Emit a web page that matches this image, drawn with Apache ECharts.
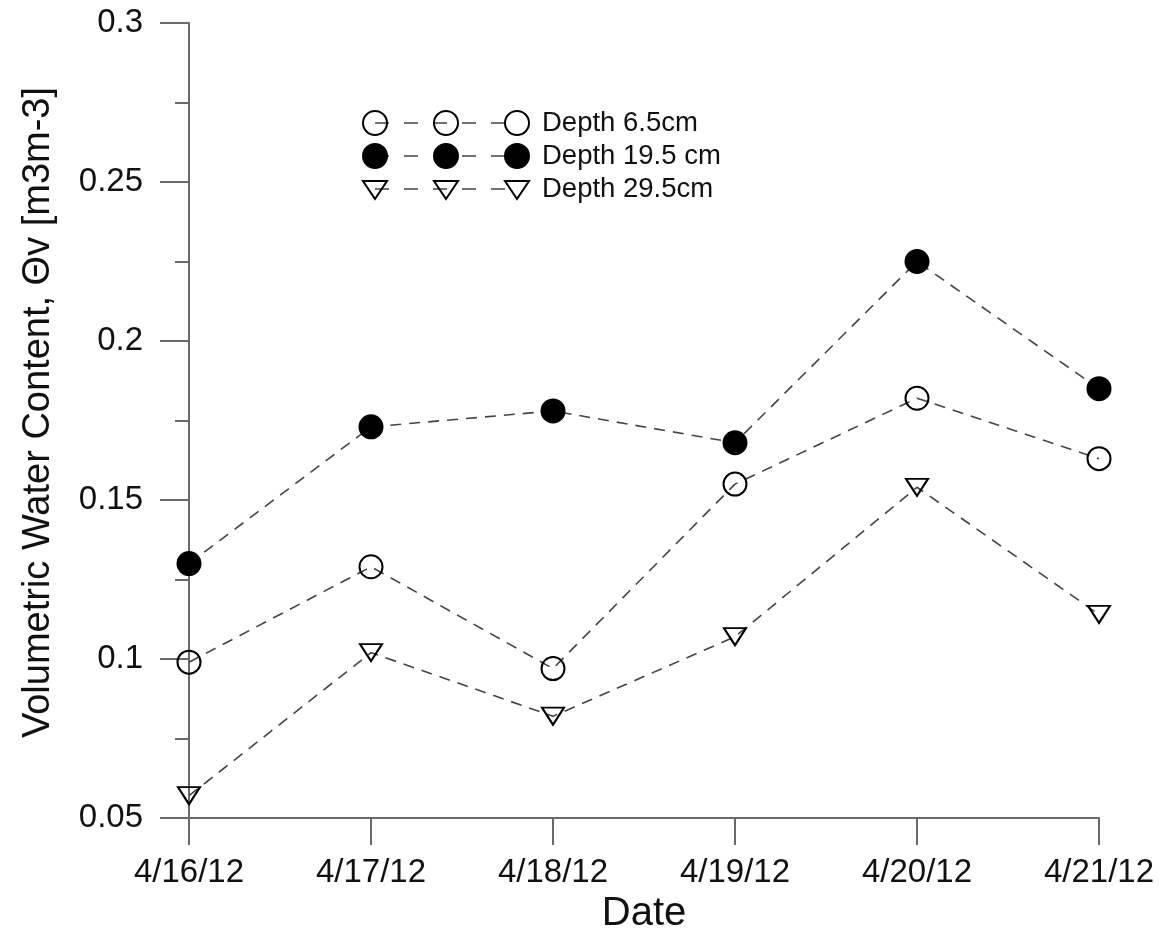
<!DOCTYPE html>
<html>
<head>
<meta charset="utf-8">
<script src="https://cdn.jsdelivr.net/npm/echarts@6/dist/echarts.min.js"></script>
<style>html,body{margin:0;padding:0;background:#fff}#c{width:1159px;height:928px}</style>
</head>
<body>
<div id="c"></div>
<script>
const dates = ['4/16/12', '4/17/12', '4/18/12', '4/19/12', '4/20/12', '4/21/12'];
const depth65 = [0.099, 0.129, 0.097, 0.155, 0.182, 0.163];
const depth195 = [0.130, 0.173, 0.178, 0.168, 0.225, 0.185];
const depth295 = [0.057, 0.102, 0.082, 0.107, 0.154, 0.114];
const seriesNames = ['Depth 6.5cm', 'Depth 19.5 cm', 'Depth 29.5cm'];
const yTicks = [0.05, 0.1, 0.15, 0.2, 0.25, 0.3];

const FONT = 'Liberation Sans, Arial, sans-serif';
const AX = '#6a6a6a';
const LINE = '#444';
const dash = [11, 8];

const chart = echarts.init(document.getElementById('c'), null, {renderer: 'canvas'});

function lineSeries(name, data, symbol, symbolSize, filled, rotate) {
  return {
    name: name, type: 'line', data: data,
    symbol: symbol, symbolSize: symbolSize, symbolRotate: rotate || 0,
    showAllSymbol: true,
    lineStyle: {color: LINE, width: 1.6, type: dash},
    itemStyle: {color: filled ? '#000' : 'rgba(0,0,0,0)', borderColor: '#000', borderWidth: 2},
    emphasis: {disabled: true},
    z: 3
  };
}

// legend drawn as graphics
const legRows = [123, 156, 189];
const legX = [375, 446, 517];
const legendGraphics = [];
seriesNames.forEach((n, i) => {
  const y = legRows[i];
  legendGraphics.push({type: 'line', shape: {x1: legX[0], y1: y, x2: legX[2], y2: y},
    style: {stroke: LINE, lineWidth: 1.6, lineDash: [14, 15]}, z: 10});
  legX.forEach(x => {
    if (i === 2) {
      legendGraphics.push({type: 'polygon', shape: {points: [[x - 12, y - 8], [x + 12, y - 8], [x, y + 10]]},
        style: {fill: 'rgba(0,0,0,0)', stroke: '#000', lineWidth: 2}, z: 11});
    } else {
      legendGraphics.push({type: 'circle', shape: {cx: x, cy: y, r: 12},
        style: {fill: i === 1 ? '#000' : 'rgba(0,0,0,0)', stroke: '#000', lineWidth: 2}, z: 11});
    }
  });
  legendGraphics.push({type: 'text', x: 542, y: y,
    style: {text: n, font: '27.5px ' + FONT, fill: '#111', verticalAlign: 'middle', textAlign: 'left'}, z: 11});
});

chart.setOption({
  backgroundColor: '#fff',
  animation: false,
  grid: {left: 189, right: 60, top: 23, bottom: 110, containLabel: false, outerBoundsMode: 'none'},
  xAxis: {
    type: 'category', data: dates, boundaryGap: false,
    name: 'Date', nameLocation: 'middle', nameGap: 74,
    nameTextStyle: {fontFamily: FONT, fontSize: 40, color: '#111'},
    axisLine: {lineStyle: {color: AX, width: 2}},
    axisTick: {show: true, alignWithLabel: true, length: 27, lineStyle: {color: AX, width: 2}},
    axisLabel: {fontFamily: FONT, fontSize: 33, color: '#111', margin: 38},
    splitLine: {show: false}
  },
  yAxis: {
    type: 'value', min: 0.05, max: 0.3, interval: 0.05,
    name: 'Volumetric Water Content, Θv [m3m-3]', nameLocation: 'middle', nameGap: 131,
    nameTextStyle: {fontFamily: FONT, fontSize: 38, color: '#111', padding: [0, 0, 0, 16]},
    axisLine: {show: true, lineStyle: {color: AX, width: 2}},
    axisTick: {show: true, length: 29, lineStyle: {color: AX, width: 2}},
    minorTick: {show: true, splitNumber: 2, length: 14, lineStyle: {color: AX, width: 2}},
    axisLabel: {fontFamily: FONT, fontSize: 33, color: '#111', margin: 46,
      formatter: v => { const t = yTicks.find(k => Math.abs(k - v) < 1e-9); return t === undefined ? '' : String(t); }},
    splitLine: {show: false}
  },
  series: [
    lineSeries(seriesNames[0], depth65, 'circle', 23, false),
    lineSeries(seriesNames[1], depth195, 'circle', 23, true),
    lineSeries(seriesNames[2], depth295, 'triangle', [22, 17], false, 180)
  ],
  graphic: legendGraphics
});
</script>
</body>
</html>
